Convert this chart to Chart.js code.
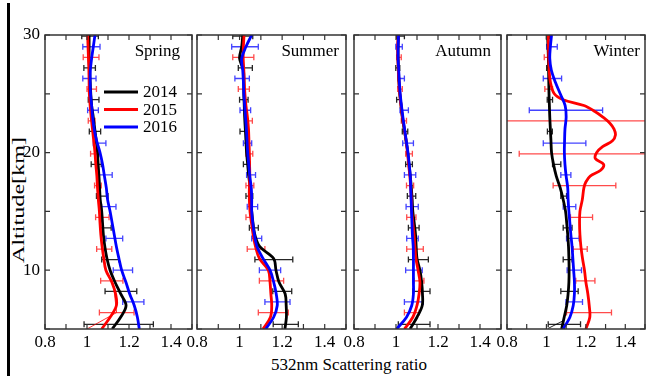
<!DOCTYPE html>
<html>
<head>
<meta charset="utf-8">
<script src="https://cdn.jsdelivr.net/npm/chart.js@4.4.0/dist/chart.umd.min.js"></script>
<style>
html, body { margin: 0; padding: 0; background: #fff; overflow: hidden; }
#wrap { position: relative; width: 646px; height: 376px; overflow: hidden; font-family: 'Liberation Serif', 'Times New Roman', serif; color: #000; }
#leftbar { position: absolute; left: 7px; top: 3px; width: 3px; height: 373px; background: #000; }
#ytitle { position: absolute; left: 19px; top: 200px; font-size: 17px; white-space: nowrap; transform: translate(-50%, -50%) rotate(-90deg) scaleX(1.42); }
#xtitle { position: absolute; left: 349px; top: 365px; font-size: 17px; white-space: nowrap; transform: translate(-50%, -50%); }
</style>
</head>
<body>
<div id="wrap">
  <div id="leftbar"></div>
  <div id="ytitle">Altitude[km]</div>
  <div id="xtitle">532nm Scattering ratio</div>
</div>
<script>
// altitude grid of the smoothed profiles (km)
const alt = [30, 29, 28, 27, 26, 25, 24, 23, 22, 21, 20, 19, 18, 17, 16, 15, 14, 13, 12, 11, 10, 9, 8, 7, 6, 5];
const winterAlt2015 = [30, 28, 27, 26, 25, 24.5, 24, 23.5, 23, 22.5, 22, 21.5, 21, 20.5, 20, 19.5, 19, 18.5, 18, 17.5, 17, 16, 15, 14, 13, 12, 11, 10, 9, 8, 7, 6, 5];

// altitudes of the error bars, staggered per year
const errAlt2014 = [29.9, 27.2, 24.5, 21.8, 19.0, 16.3, 13.6, 10.9, 8.2, 5.4];
const errAlt2015 = [28.1, 25.4, 22.7, 19.9, 17.2, 14.5, 11.8, 9.1, 6.4];
const errAlt2016 = [29.0, 26.3, 23.6, 20.8, 18.1, 15.4, 12.7, 10.0, 7.3];

const years = ['2014', '2015', '2016'];
const seasons = ['Spring', 'Summer', 'Autumn', 'Winter'];
const xLabels = ['0.8', '1', '1.2', '1.4'];
const yLabels = ['10', '20', '30'];

// scattering ratio profiles
const spring2014 = [1.01, 1.01, 1.01, 1.012, 1.015, 1.018, 1.022, 1.03, 1.037, 1.044, 1.05, 1.053, 1.057, 1.06, 1.063, 1.07, 1.074, 1.078, 1.085, 1.095, 1.11, 1.133, 1.16, 1.186, 1.16, 1.12];
const spring2015 = [1.003, 1.005, 1.007, 1.009, 1.01, 1.011, 1.015, 1.02, 1.026, 1.032, 1.038, 1.042, 1.047, 1.05, 1.054, 1.059, 1.062, 1.066, 1.072, 1.08, 1.09, 1.118, 1.136, 1.14, 1.11, 1.07];
const spring2016 = [1.038, 1.03, 1.022, 1.016, 1.015, 1.017, 1.022, 1.027, 1.034, 1.046, 1.062, 1.074, 1.083, 1.092, 1.098, 1.11, 1.12, 1.13, 1.14, 1.152, 1.165, 1.185, 1.203, 1.225, 1.24, 1.249];

const summer2014 = [1.015, 1.01, 1.0, 1.018, 1.02, 1.02, 1.022, 1.024, 1.027, 1.03, 1.033, 1.038, 1.043, 1.05, 1.052, 1.057, 1.063, 1.072, 1.095, 1.16, 1.171, 1.185, 1.214, 1.219, 1.22, 1.213];
const summer2015 = [1.021, 1.018, 1.017, 1.02, 1.022, 1.025, 1.03, 1.037, 1.042, 1.044, 1.046, 1.047, 1.048, 1.046, 1.046, 1.049, 1.056, 1.064, 1.075, 1.093, 1.135, 1.143, 1.147, 1.151, 1.145, 1.11];
const summer2016 = [1.057, 1.03, 1.01, 1.015, 1.018, 1.02, 1.024, 1.028, 1.032, 1.035, 1.038, 1.043, 1.048, 1.055, 1.057, 1.057, 1.062, 1.07, 1.082, 1.11, 1.143, 1.16, 1.172, 1.177, 1.16, 1.123];

const autumn2014 = [1.012, 1.01, 1.01, 1.012, 1.014, 1.018, 1.024, 1.03, 1.039, 1.048, 1.056, 1.062, 1.068, 1.073, 1.077, 1.08, 1.087, 1.093, 1.096, 1.1, 1.114, 1.122, 1.126, 1.125, 1.1, 1.067];
const autumn2015 = [1.01, 1.008, 1.009, 1.011, 1.014, 1.018, 1.024, 1.031, 1.04, 1.048, 1.055, 1.06, 1.066, 1.07, 1.073, 1.075, 1.08, 1.086, 1.09, 1.095, 1.105, 1.114, 1.11, 1.1, 1.08, 1.04];
const autumn2016 = [1.012, 1.01, 1.01, 1.013, 1.016, 1.02, 1.026, 1.033, 1.041, 1.049, 1.057, 1.063, 1.068, 1.07, 1.072, 1.074, 1.076, 1.078, 1.082, 1.083, 1.083, 1.083, 1.083, 1.075, 1.05, 1.003];

const winter2014 = [1.006, 1.008, 1.01, 1.011, 1.012, 1.013, 1.015, 1.017, 1.02, 1.023, 1.026, 1.036, 1.05, 1.07, 1.085, 1.097, 1.103, 1.108, 1.112, 1.114, 1.115, 1.114, 1.11, 1.103, 1.09, 1.077];
const winter2015 = [1.009, 1.012, 1.014, 1.02, 1.04, 1.085, 1.19, 1.246, 1.288, 1.322, 1.343, 1.35, 1.335, 1.285, 1.255, 1.248, 1.29, 1.275, 1.222, 1.2, 1.19, 1.182, 1.17, 1.168, 1.17, 1.175, 1.183, 1.193, 1.2, 1.21, 1.217, 1.22, 1.2];
const winter2016 = [1.026, 1.02, 1.017, 1.025, 1.045, 1.07, 1.095, 1.1, 1.094, 1.092, 1.091, 1.094, 1.1, 1.108, 1.11, 1.114, 1.119, 1.124, 1.13, 1.134, 1.138, 1.142, 1.142, 1.136, 1.119, 1.085];

// error bars [low, high]
const springErr2014 = [[0.975, 1.054], [0.985, 1.04], [1.006, 1.057], [1.011, 1.065], [1.02, 1.068], [1.045, 1.1], [1.065, 1.115], [1.07, 1.152], [1.086, 1.237], [0.986, 1.316]];
const springErr2015 = [[0.982, 1.057], [1.0, 1.045], [1.006, 1.038], [1.017, 1.057], [1.036, 1.068], [1.041, 1.105], [1.046, 1.118], [1.065, 1.171], [1.059, 1.224]];
const springErr2016 = [[0.98, 1.062], [0.98, 1.043], [1.003, 1.054], [1.03, 1.09], [1.057, 1.12], [1.07, 1.138], [1.09, 1.17], [1.125, 1.217], [1.17, 1.271]];

const summerErr2014 = [[0.968, 1.062], [0.994, 1.06], [1.0, 1.04], [1.002, 1.033], [1.018, 1.049], [1.03, 1.062], [1.046, 1.088], [1.072, 1.25], [1.156, 1.245], [1.158, 1.276]];
const summerErr2015 = [[0.968, 1.067], [0.994, 1.046], [1.025, 1.06], [1.03, 1.062], [1.03, 1.067], [1.03, 1.057], [1.036, 1.119], [1.093, 1.207], [1.088, 1.229]];
const summerErr2016 = [[0.963, 1.088], [0.978, 1.046], [1.002, 1.052], [1.018, 1.057], [1.033, 1.075], [1.036, 1.085], [1.057, 1.104], [1.093, 1.193], [1.119, 1.237]];

const autumnErr2014 = [[1.003, 1.04], [0.999, 1.018], [1.003, 1.022], [1.03, 1.056], [1.046, 1.078], [1.054, 1.094], [1.059, 1.11], [1.059, 1.154], [1.08, 1.162], [1.011, 1.162]];
const autumnErr2015 = [[1.003, 1.025], [1.008, 1.03], [1.025, 1.05], [1.046, 1.078], [1.05, 1.084], [1.051, 1.095], [1.051, 1.13], [1.086, 1.133], [1.04, 1.11]];
const autumnErr2016 = [[0.999, 1.03], [1.01, 1.04], [1.019, 1.059], [1.032, 1.083], [1.04, 1.094], [1.048, 1.106], [1.051, 1.106], [1.046, 1.125], [1.04, 1.13]];

const winterErr2014 = [[1.0, 1.015], [1.001, 1.018], [1.004, 1.031], [1.005, 1.03], [1.031, 1.073], [1.073, 1.102], [1.085, 1.13], [1.085, 1.13], [1.073, 1.161], [1.009, 1.173]];
const winterErr2015 = [[0.989, 1.018], [0.992, 1.031], [0.7, 1.6], [0.862, 1.6], [1.034, 1.352], [1.122, 1.234], [1.136, 1.207], [1.149, 1.246], [1.102, 1.33]];
const winterErr2016 = [[1.001, 1.055], [0.984, 1.077], [0.913, 1.285], [0.984, 1.2], [1.073, 1.124], [1.085, 1.149], [1.102, 1.166], [1.105, 1.178], [1.099, 1.183]];

// thin raw-profile traces near the ground
const springThinX = [1.125, 1.141, 1.0];
const springThinY = [8.9, 6.4, 5.0];
const winterThinX = [1.085, 1.009];
const winterThinY = [5.7, 5.05];

const lineColors = ['#000000', '#ff0000', '#0000ff'];
const barColors = ['rgba(0,0,0,0.85)', 'rgba(255,30,30,0.8)', 'rgba(20,20,255,0.8)'];
const errAlts = [errAlt2014, errAlt2015, errAlt2016];
const FONT = "'Liberation Serif', 'Times New Roman', serif";

Chart.defaults.font.family = FONT;
Chart.defaults.font.size = 17;
Chart.defaults.color = '#000';

const panels = [
  { curves: [spring2014, spring2015, spring2016], alts: [alt, alt, alt], errs: [springErr2014, springErr2015, springErr2016],
    thin: [{ x: springThinX, y: springThinY, color: 'rgba(255,0,0,0.8)' }], left: 45, right: 192, inset: 12, showY: true, legend: true },
  { curves: [summer2014, summer2015, summer2016], alts: [alt, alt, alt], errs: [summerErr2014, summerErr2015, summerErr2016],
    thin: [], left: 197, right: 346, inset: 7, showY: false, legend: false },
  { curves: [autumn2014, autumn2015, autumn2016], alts: [alt, alt, alt], errs: [autumnErr2014, autumnErr2015, autumnErr2016],
    thin: [], left: 354, right: 501, inset: 10, showY: false, legend: false },
  { curves: [winter2014, winter2015, winter2016], alts: [alt, winterAlt2015, alt], errs: [winterErr2014, winterErr2015, winterErr2016],
    thin: [{ x: winterThinX, y: winterThinY, color: 'rgba(0,0,0,0.85)' }], left: 507, right: 645, inset: 5, showY: false, legend: false }
];

function pts(xs, ys) {
  return xs.map((v, i) => ({ x: v, y: ys[i] }));
}

// horizontal error bars with caps
const errorBarPlugin = {
  id: 'errorBars',
  beforeDatasetsDraw(chart) {
    const { ctx, chartArea: a, scales: { x, y } } = chart;
    ctx.save();
    ctx.beginPath();
    ctx.rect(a.left, a.top, a.right - a.left, a.bottom - a.top);
    ctx.clip();
    ctx.lineWidth = 1.3;
    chart.data.datasets.forEach(ds => {
      if (!ds.errorBars) return;
      ctx.strokeStyle = ds.barColor;
      ctx.beginPath();
      ds.errorBars.forEach(b => {
        const py = y.getPixelForValue(b.y);
        const x0 = x.getPixelForValue(b.lo);
        const x1 = x.getPixelForValue(b.hi);
        ctx.moveTo(x0, py); ctx.lineTo(x1, py);
        ctx.moveTo(x0, py - 3); ctx.lineTo(x0, py + 3);
        ctx.moveTo(x1, py - 3); ctx.lineTo(x1, py + 3);
      });
      ctx.stroke();
    });
    ctx.restore();
  }
};

// box with inward ticks on all four sides
const framePlugin = {
  id: 'frame',
  afterDatasetsDraw(chart) {
    const { ctx, chartArea: a, scales: { x, y } } = chart;
    ctx.save();
    ctx.strokeStyle = '#333';
    ctx.lineWidth = 1.5;
    ctx.strokeRect(a.left, a.top, a.right - a.left, a.bottom - a.top);
    ctx.lineWidth = 1.2;
    ctx.beginPath();
    x.ticks.forEach(t => {
      const px = x.getPixelForValue(t.value);
      ctx.moveTo(px, a.bottom); ctx.lineTo(px, a.bottom - 5);
      ctx.moveTo(px, a.top); ctx.lineTo(px, a.top + 5);
    });
    y.ticks.forEach(t => {
      const py = y.getPixelForValue(t.value);
      ctx.moveTo(a.left, py); ctx.lineTo(a.left + 5, py);
      ctx.moveTo(a.right, py); ctx.lineTo(a.right - 5, py);
    });
    ctx.stroke();
    ctx.restore();
  }
};

// season name and (first panel) the legend
const textPlugin = {
  id: 'panelText',
  afterDraw(chart, args, opts) {
    const { ctx, chartArea: a } = chart;
    ctx.save();
    ctx.font = '17px ' + FONT;
    ctx.fillStyle = '#000';
    ctx.textAlign = 'right';
    ctx.textBaseline = 'middle';
    ctx.fillText(opts.title, a.right - opts.inset, a.top + 17);
    if (opts.legend) {
      ctx.textAlign = 'left';
      [0, 1, 2].forEach(k => {
        const ly = a.top + 57 + k * 17.5;
        ctx.strokeStyle = lineColors[k];
        ctx.lineWidth = 3;
        ctx.beginPath();
        ctx.moveTo(a.left + 59, ly);
        ctx.lineTo(a.left + 93, ly);
        ctx.stroke();
        ctx.fillText(years[k], a.left + 98, ly + 1);
      });
    }
    ctx.restore();
  }
};

const wrap = document.getElementById('wrap');

panels.forEach((p, i) => {
  const w = p.right - p.left + 44;
  const canvas = document.createElement('canvas');
  canvas.width = w;
  canvas.height = 352;
  canvas.style.cssText = 'position:absolute;top:0;left:' + (p.left - 40) + 'px;width:' + w + 'px;height:352px';
  wrap.appendChild(canvas);

  const datasets = [];
  p.curves.forEach((c, k) => {
    datasets.push({
      label: years[k],
      data: pts(c, p.alts[k]),
      showLine: true,
      borderColor: lineColors[k],
      borderWidth: 2.8,
      pointRadius: 0,
      tension: 0.35,
      order: 3 - k,
      errorBars: p.errs[k].map((e, j) => ({ y: errAlts[k][j], lo: e[0], hi: e[1] })),
      barColor: barColors[k]
    });
  });
  p.thin.forEach(t => {
    datasets.push({
      label: 'raw',
      data: pts(t.x, t.y),
      showLine: true,
      borderColor: t.color,
      borderWidth: 1,
      pointRadius: 0,
      tension: 0,
      order: 5
    });
  });

  new Chart(canvas, {
    type: 'scatter',
    data: { datasets: datasets },
    options: {
      responsive: false,
      animation: false,
      events: [],
      layout: { padding: { top: 35, right: 4, left: 0, bottom: 0 } },
      plugins: {
        legend: { display: false },
        tooltip: { enabled: false },
        panelText: { title: seasons[i], inset: p.inset, legend: p.legend }
      },
      scales: {
        x: {
          type: 'linear',
          min: 0.8,
          max: 1.5,
          afterFit: s => { s.height = 23; },
          grid: { display: false, drawTicks: false },
          border: { display: false },
          ticks: {
            stepSize: 0.1,
            autoSkip: false,
            maxRotation: 0,
            padding: 3,
            callback: v => {
              const idx = [8, 10, 12, 14].indexOf(Math.round(v * 10));
              return idx >= 0 ? xLabels[idx] : '';
            }
          }
        },
        y: {
          type: 'linear',
          min: 5,
          max: 30,
          afterFit: s => { s.width = 40; },
          grid: { display: false, drawTicks: false },
          border: { display: false },
          ticks: {
            stepSize: 5,
            autoSkip: false,
            padding: 5,
            callback: v => {
              if (!p.showY) return '';
              const idx = [10, 20, 30].indexOf(Math.round(v));
              return idx >= 0 ? yLabels[idx] : '';
            }
          }
        }
      }
    },
    plugins: [errorBarPlugin, framePlugin, textPlugin]
  });
});
</script>
</body>
</html>
